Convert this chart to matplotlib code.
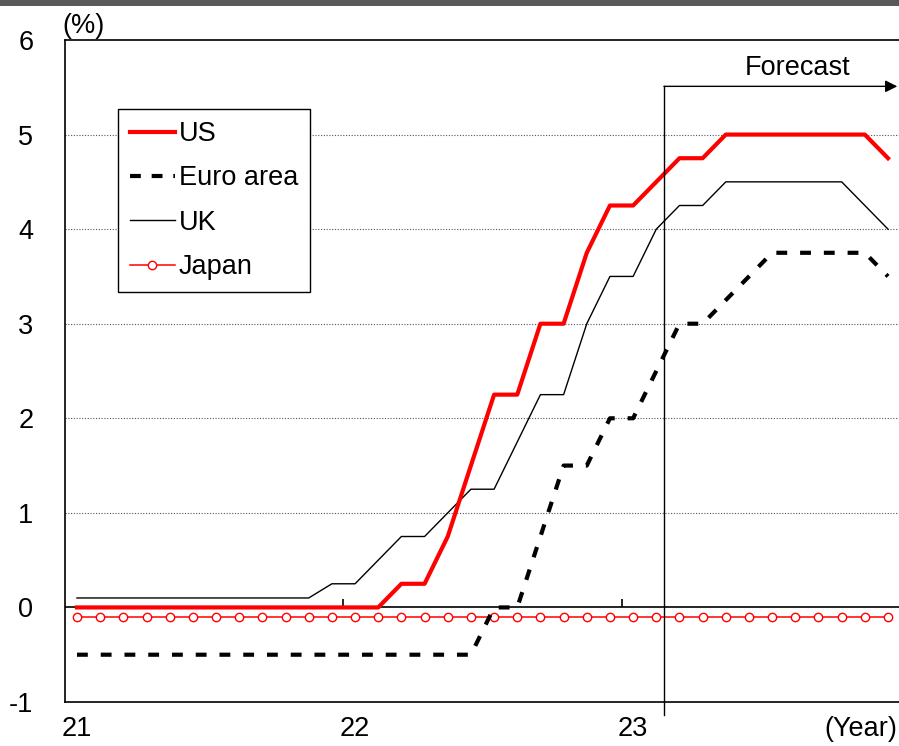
import matplotlib
matplotlib.use('Agg')
import matplotlib.pyplot as plt
from matplotlib.lines import Line2D
from matplotlib.patches import Rectangle
import numpy as np

plt.rcParams['font.family'] = ['Liberation Sans', 'DejaVu Sans']
plt.rcParams['font.size'] = 19.5
plt.rcParams['axes.unicode_minus'] = False

# Monthly policy rates, Jan 2021 .. Dec 2023 (%)
us = [0, 0, 0, 0, 0, 0, 0, 0, 0, 0, 0, 0,
      0, 0, 0.25, 0.25, 0.75, 1.5, 2.25, 2.25, 3.0, 3.0, 3.75, 4.25,
      4.25, 4.5, 4.75, 4.75, 5.0, 5.0, 5.0, 5.0, 5.0, 5.0, 5.0, 4.75]
euro = [-0.5, -0.5, -0.5, -0.5, -0.5, -0.5, -0.5, -0.5, -0.5, -0.5, -0.5, -0.5,
        -0.5, -0.5, -0.5, -0.5, -0.5, -0.5, 0.0, 0.0, 0.75, 1.5, 1.5, 2.0,
        2.0, 2.5, 3.0, 3.0, 3.25, 3.5, 3.75, 3.75, 3.75, 3.75, 3.75, 3.5]
uk = [0.1, 0.1, 0.1, 0.1, 0.1, 0.1, 0.1, 0.1, 0.1, 0.1, 0.1, 0.25,
      0.25, 0.5, 0.75, 0.75, 1.0, 1.25, 1.25, 1.75, 2.25, 2.25, 3.0, 3.5,
      3.5, 4.0, 4.25, 4.25, 4.5, 4.5, 4.5, 4.5, 4.5, 4.5, 4.25, 4.0]
japan = [-0.1, -0.1, -0.1, -0.1, -0.1, -0.1, -0.1, -0.1, -0.1, -0.1, -0.1, -0.1,
         -0.1, -0.1, -0.1, -0.1, -0.1, -0.1, -0.1, -0.1, -0.1, -0.1, -0.1, -0.1,
         -0.1, -0.1, -0.1, -0.1, -0.1, -0.1, -0.1, -0.1, -0.1, -0.1, -0.1, -0.1]
year_labels = ['21', '22', '23']
forecast_start = 25.33   # month index where the forecast begins

x = np.arange(len(us))

fig = plt.figure(figsize=(8.99, 7.46), dpi=100)
ax = fig.add_axes([65.4 / 899, 44 / 746, 834.2 / 899, 662 / 746])

# dark band along the top edge
fig.add_artist(Rectangle((0, 1 - 6 / 746), 1, 6 / 746, transform=fig.transFigure,
                         color='#595959', lw=0))

ax.set_xlim(-0.5, len(us) - 0.5)
ax.set_ylim(-1, 6)

for lvl in [1, 2, 3, 4, 5]:
    ax.axhline(lvl, color='#555555', lw=0.8, ls=(0, (1, 1.5)), zorder=1)
ax.axhline(0, color='black', lw=1.2, zorder=2)
# year ticks on the zero line
ax.vlines([11.5, 23.5], 0, 0.085, color='black', lw=1.2, zorder=2)

ax.plot(x, japan, color='red', lw=1.1, marker='o', ms=6, mfc='white',
        mec='red', mew=1.0, zorder=3)
ax.plot(x, euro, color='black', lw=3, dashes=(2.6, 3.1), zorder=4)
ax.plot(x, uk, color='black', lw=1.0, zorder=5)
ax.plot(x, us, color='red', lw=3, zorder=6)

# forecast marker
y_arrow = 5.51
ax.plot([forecast_start, forecast_start], [y_arrow, -1.14], color='black',
        lw=1.0, clip_on=False, zorder=7)
ax.annotate('', xy=(35.4, y_arrow), xytext=(forecast_start, y_arrow),
            arrowprops=dict(arrowstyle='-|>', color='black', lw=1.0,
                            mutation_scale=18, shrinkA=0, shrinkB=0),
            annotation_clip=False, zorder=7)
ax.text(31.1, 5.63, 'Forecast', ha='center', va='baseline')

ax.set_xticks([0, 12, 24])
ax.set_xticklabels(year_labels)
ax.set_yticks(range(-1, 7))
ax.tick_params(axis='both', length=0)
ax.tick_params(axis='x', pad=10)
ax.tick_params(axis='y', pad=23)

for side in ['left', 'top', 'bottom']:
    ax.spines[side].set_linewidth(1.2)
ax.spines['right'].set_visible(False)

ax.annotate('(Year)', xy=(1, 0), xycoords='axes fraction', xytext=(-2, -10),
            textcoords='offset points', ha='right', va='top')
ax.annotate('(%)', xy=(0, 1), xycoords='axes fraction', xytext=(-2, 1),
            textcoords='offset points', ha='left', va='bottom')

handles = [
    Line2D([], [], color='red', lw=3),
    Line2D([], [], color='black', lw=3, dashes=(2.6, 2.6)),
    Line2D([], [], color='black', lw=1.0),
    Line2D([], [], color='red', lw=1.1, marker='o', ms=6, mfc='white', mec='red'),
]
leg = ax.legend(handles, ['US', 'Euro area', 'UK', 'Japan'], loc='upper left',
                bbox_to_anchor=(0.063, 0.896), borderaxespad=0, frameon=True,
                fancybox=False, edgecolor='black', framealpha=1,
                handlelength=1.65, handletextpad=0.15, labelspacing=0.68,
                borderpad=0.45, numpoints=1)
leg.get_frame().set_linewidth(1.0)

fig.savefig('out.png', dpi=100)
